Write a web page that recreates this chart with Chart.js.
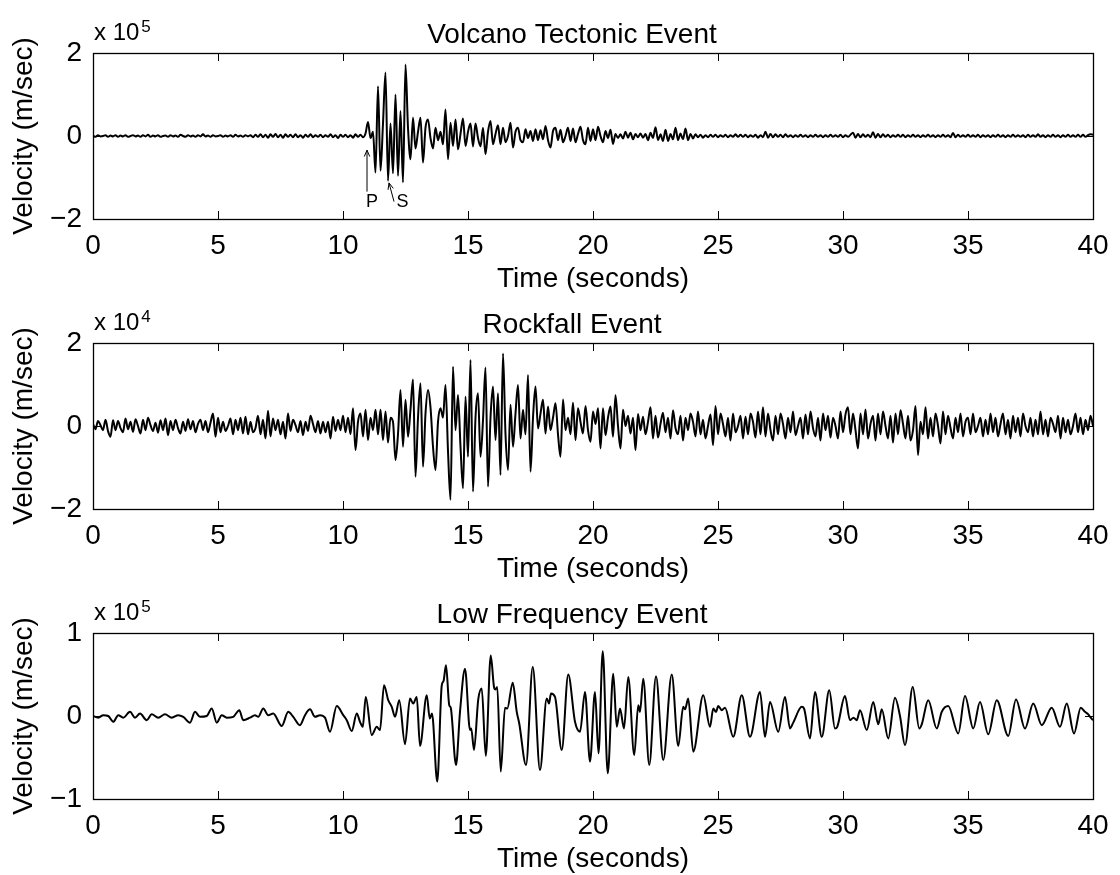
<!DOCTYPE html>
<html lang="en">
<head>
<meta charset="UTF-8">
<title>Seismic Event Waveforms</title>
<script src="https://cdn.jsdelivr.net/npm/chart.js"></script>
<style>
    body { margin: 0; background: #fff; overflow: hidden; }
    .figure { position: relative; width: 1120px; height: 875px; }
    .figure canvas { position: absolute; left: 0; }
</style>
</head>
<body>
<div class="figure">
    <canvas id="vtChart" width="1120" height="300" style="top:1px"></canvas>
    <canvas id="rfChart" width="1120" height="300" style="top:291px"></canvas>
    <canvas id="lfChart" width="1120" height="300" style="top:581px"></canvas>
</div>

<script>
// time axis
const timeTicks = [0, 5, 10, 15, 20, 25, 30, 35, 40];
const dt = 0.1; // sample spacing of the VT and rockfall traces (s)

// Volcano tectonic trace, x 10^5 m/sec, one row per second
const vtTicks = [-2, 0, 2];
const vtVel = [
    0.01, -0.02, 0.02, -0.01, 0.0, 0.02, -0.02, 0.01, -0.01, 0.02,
    -0.02, 0.01, -0.01, 0.02, -0.02, 0.0, 0.02, -0.01, 0.01, -0.02,
    0.02, -0.01, 0.03, -0.02, 0.01, -0.01, 0.02, -0.02, 0.0, 0.01,
    -0.02, 0.02, -0.01, 0.01, -0.02, 0.03, 0.0, -0.02, 0.02, -0.01,
    0.01, -0.02, 0.02, -0.01, 0.04, -0.01, 0.01, -0.02, 0.02, -0.01,
    0.0, 0.02, -0.02, 0.01, -0.01, 0.02, -0.02, 0.03, -0.01, 0.01,
    -0.02, 0.02, -0.01, 0.02, -0.03, 0.03, -0.02, 0.04, -0.03, 0.03,
    -0.04, 0.04, -0.02, 0.05, -0.03, 0.03, -0.04, 0.04, -0.02, 0.03,
    -0.03, 0.04, -0.03, 0.02, -0.04, 0.03, -0.02, 0.04, -0.03, 0.02,
    -0.02, 0.03, -0.03, 0.02, -0.02, 0.04, -0.03, 0.02, -0.05, 0.03,
    -0.02, 0.03, -0.03, 0.02, -0.04, 0.04, -0.02, 0.03, -0.03, 0.06,
    0.34, -0.05, 0.1, -0.88, 1.2, -0.84, 0.3, 1.53, -1.08, 0.3,
    -0.9, 1.0, -0.96, 0.6, -1.12, 1.72, 0.2, -0.56, 0.44, -0.3,
    0.1, 0.44, -0.64, 0.2, 0.4, -0.05, -0.3, 0.2, -0.1, 0.1,
    -0.2, 0.64, -0.56, 0.32, -0.24, 0.4, -0.32, 0.05, 0.42, -0.24,
    0.1, 0.3, -0.25, 0.3, -0.05, -0.25, 0.2, -0.44, 0.1, 0.36,
    -0.2, 0.05, 0.26, -0.2, 0.2, -0.15, 0.0, 0.32, -0.28, 0.1,
    0.2, -0.1, -0.15, 0.16, -0.05, 0.12, -0.12, 0.16, -0.1, 0.14,
    -0.08, 0.24, -0.1, -0.28, 0.12, 0.2, -0.1, 0.15, -0.15, 0.0,
    0.2, -0.12, 0.18, -0.15, 0.05, 0.22, -0.1, -0.2, 0.2, -0.12,
    0.16, -0.1, 0.22, 0.0, -0.15, 0.12, -0.05, 0.15, -0.19, 0.05,
    -0.05, 0.04, -0.06, 0.1, -0.04, 0.08, -0.08, 0.05, -0.03, 0.06,
    -0.04, 0.05, -0.1, 0.08, -0.05, 0.21, -0.1, 0.04, -0.12, 0.15,
    -0.12, 0.05, -0.08, 0.2, -0.1, 0.06, -0.08, 0.18, -0.1, 0.05,
    -0.06, 0.04, -0.03, 0.03, -0.04, 0.02, -0.03, 0.03, -0.02, 0.03,
    -0.03, 0.02, -0.02, 0.03, -0.03, 0.02, -0.02, 0.04, -0.02, 0.03,
    -0.02, 0.03, -0.03, 0.02, -0.02, 0.03, -0.04, 0.02, -0.03, 0.1,
    -0.04, 0.05, -0.03, 0.04, -0.02, 0.03, -0.03, 0.04, -0.02, 0.02,
    -0.03, 0.02, -0.02, 0.03, -0.02, 0.02, -0.03, 0.02, -0.02, 0.03,
    -0.02, 0.02, -0.03, 0.02, -0.02, 0.03, -0.02, 0.02, -0.02, 0.03,
    -0.03, 0.02, -0.02, 0.03, 0.08, -0.04, 0.05, -0.03, 0.04, -0.02,
    0.03, -0.03, 0.09, -0.04, 0.05, -0.03, 0.04, -0.02, 0.03, -0.03,
    0.02, -0.02, 0.03, -0.02, 0.03, -0.03, 0.02, -0.02, 0.03, -0.02,
    0.02, -0.03, 0.02, -0.02, 0.03, -0.02, 0.02, -0.03, 0.02, -0.02,
    0.03, -0.02, 0.02, -0.03, 0.07, -0.03, 0.03, -0.02, 0.02, -0.02,
    0.03, -0.02, 0.02, -0.02, 0.03, -0.03, 0.02, -0.02, 0.02, -0.03,
    0.02, -0.02, 0.03, -0.02, 0.02, -0.03, 0.02, -0.02, 0.03, -0.02,
    0.02, -0.02, 0.02, -0.03, 0.03, -0.02, 0.02, -0.02, 0.04, -0.02,
    0.02, -0.03, 0.02, -0.02, 0.03, -0.02, 0.02, -0.03, 0.02, -0.02,
    0.03, -0.02, 0.02, -0.02, 0.03, -0.02, 0.03, -0.02, 0.02, 0.04,
    0.03
];
// P and S arrivals marked on the VT trace (seconds, x 10^5 m/sec)
const vtPicks = [
    { label: 'P', tip: [10.96, -0.34], tail: [10.96, -1.34], text: [11.16, -1.70] },
    { label: 'S', tip: [11.84, -1.13], tail: [12.04, -1.58], text: [12.38, -1.70] }
];

// Rockfall trace, x 10^4 m/sec
const rfTicks = [-2, 0, 2];
const rfVel = [
    0.05, -0.08, 0.12, 0.02, -0.1, 0.15, -0.12, -0.26, 0.14, -0.1,
    0.12, -0.05, -0.15, 0.18, -0.08, 0.1, -0.14, 0.16, 0.0, -0.18,
    0.15, -0.1, 0.2, 0.02, -0.12, 0.08, -0.16, 0.14, -0.1, 0.18,
    -0.22, 0.12, -0.1, 0.15, -0.05, -0.18, 0.1, -0.12, 0.16, -0.08,
    0.12, -0.15, 0.05, 0.15, -0.1, 0.12, -0.15, 0.08, 0.3, -0.26,
    0.2, -0.15, 0.1, -0.12, 0.0, 0.18, -0.2, 0.15, -0.1, 0.2,
    -0.18, 0.22, -0.2, 0.1, -0.15, -0.05, 0.25, -0.2, 0.15, -0.3,
    0.37, -0.25, 0.18, -0.1, 0.15, -0.2, 0.1, -0.3, 0.3, -0.12,
    0.15, 0.02, -0.15, 0.12, -0.22, 0.1, -0.12, 0.25, 0.05, -0.15,
    0.12, -0.18, 0.1, -0.15, 0.1, -0.3, 0.22, -0.12, 0.15, -0.1,
    0.25, -0.15, 0.2, -0.2, 0.43, -0.58, 0.1, 0.3, -0.25, 0.39,
    -0.34, 0.2, -0.1, 0.39, -0.2, 0.39, -0.34, 0.35, -0.4, 0.2,
    0.1, -0.82, -0.2, 0.87, -0.5, 0.63, -0.26, 0.4, 1.12, -1.22,
    0.2, 1.03, -0.98, 0.3, 0.87, 0.45, -0.5, -1.06, 0.1, 0.43,
    0.2, 0.99, -0.6, -1.78, 1.43, -0.1, 0.75, -0.5, -1.5, 0.71,
    -0.74, 1.59, -1.58, 0.2, 0.79, -0.74, 0.14, 1.41, -1.46, 0.2,
    0.95, -0.34, 0.79, -1.18, 1.75, -0.2, -1.06, 0.51, -0.5, 0.3,
    0.99, -0.3, 0.39, -0.2, 1.23, -1.1, 0.2, 0.95, -0.06, 0.3,
    0.63, -0.18, 0.47, -0.1, 0.2, 0.55, -0.2, -0.74, 0.64, -0.1,
    0.2, -0.2, 0.56, -0.34, 0.43, 0.1, -0.18, 0.48, -0.1, -0.38,
    0.35, 0.05, 0.43, -0.54, 0.43, -0.22, 0.2, 0.47, -0.26, 0.74,
    0.0, -0.54, 0.39, 0.0, 0.25, -0.18, 0.2, -0.58, 0.29, -0.1,
    0.22, -0.2, 0.1, 0.45, -0.3, 0.25, -0.28, 0.05, 0.32, -0.15,
    0.2, -0.3, 0.38, -0.05, -0.2, 0.25, -0.35, 0.2, -0.1, 0.3,
    0.1, -0.25, 0.35, -0.2, 0.15, -0.3, 0.0, 0.28, -0.46, 0.48,
    -0.2, 0.3, 0.05, -0.25, 0.2, -0.35, 0.3, -0.15, 0.0, 0.25,
    -0.3, 0.22, -0.2, 0.3, 0.1, -0.28, 0.35, -0.2, 0.45, -0.25,
    0.3, -0.1, -0.35, 0.25, -0.2, 0.3, 0.05, -0.3, 0.2, -0.15,
    0.35, -0.22, 0.0, 0.2, -0.3, 0.28, -0.2, 0.35, -0.05, -0.25,
    0.2, -0.35, 0.3, -0.1, 0.25, -0.28, 0.2, 0.0, -0.3, 0.35,
    -0.15, 0.28, 0.45, -0.2, 0.3, -0.1, -0.54, 0.3, -0.2, 0.4,
    -0.3, 0.05, 0.25, -0.35, 0.3, -0.2, 0.35, 0.0, -0.3, 0.25,
    -0.4, 0.3, -0.2, 0.38, 0.05, -0.3, 0.25, -0.35, -0.1, 0.48,
    -0.7, 0.1, -0.2, 0.45, -0.3, 0.2, -0.25, 0.3, 0.0, -0.42,
    0.35, -0.2, 0.25, -0.05, -0.3, 0.2, -0.15, 0.3, -0.25, 0.1,
    0.2, -0.2, 0.3, -0.15, 0.0, 0.2, -0.25, 0.15, -0.2, 0.3,
    -0.15, 0.2, -0.25, 0.05, 0.3, -0.2, 0.15, -0.3, 0.25, -0.15,
    0.2, -0.25, 0.3, 0.0, -0.15, 0.2, -0.25, 0.15, -0.2, 0.35,
    -0.2, 0.15, -0.25, 0.2, 0.05, -0.15, 0.25, -0.3, 0.2, -0.15,
    0.15, -0.2, 0.0, 0.3, -0.15, 0.2, -0.2, 0.15, -0.1, 0.25,
    0.0
];

// Low frequency trace, x 10^5 m/sec, peaks and troughs
const lfTicks = [-1, 0, 1];
const lfTime = [
    0.0, 0.21, 0.41, 0.61, 0.81, 1.01, 1.21, 1.48, 1.68, 1.88,
    2.15, 2.35, 2.61, 2.88, 3.15, 3.41, 3.61, 3.88, 4.08, 4.28,
    4.55, 4.75, 4.95, 5.15, 5.35, 5.61, 5.85, 6.01, 6.28, 6.48,
    6.61, 6.81, 7.01, 7.21, 7.55, 7.81, 8.01, 8.28, 8.48, 8.68,
    8.88, 9.08, 9.28, 9.48, 9.75, 10.01, 10.15, 10.35, 10.55, 10.68,
    10.79, 10.91, 11.15, 11.35, 11.48, 11.64, 11.81, 11.95, 12.08, 12.25,
    12.48, 12.68, 12.81, 12.95, 13.08, 13.35, 13.47, 13.56, 13.77, 13.95,
    14.02, 14.12, 14.25, 14.31, 14.52, 14.68, 14.88, 15.08, 15.13, 15.24,
    15.41, 15.55, 15.71, 15.91, 16.04, 16.1, 16.17, 16.31, 16.48, 16.57,
    16.79, 16.95, 17.05, 17.32, 17.59, 17.88, 18.15, 18.24, 18.32, 18.48,
    18.75, 19.01, 19.28, 19.48, 19.68, 19.88, 20.08, 20.22, 20.39, 20.59,
    20.81, 20.95, 21.08, 21.24, 21.41, 21.65, 21.81, 21.88, 22.01, 22.25,
    22.52, 22.81, 23.15, 23.41, 23.61, 23.68, 23.81, 24.01, 24.41, 24.68,
    24.81, 24.92, 25.01, 25.15, 25.28, 25.61, 25.95, 26.28, 26.68, 26.88,
    27.08, 27.41, 27.68, 27.88, 28.01, 28.35, 28.44, 28.68, 28.88, 29.15,
    29.45, 29.68, 29.77, 30.08, 30.28, 30.42, 30.55, 30.68, 30.95, 31.21,
    31.41, 31.55, 31.81, 32.08, 32.28, 32.48, 32.79, 33.05, 33.15, 33.41,
    33.75, 33.95, 34.21, 34.61, 34.88, 35.21, 35.48, 35.81, 36.15, 36.61,
    36.92, 37.28, 37.61, 37.95, 38.35, 38.68, 38.95, 39.24, 39.51, 39.68,
    39.81, 39.91, 40.0
];
const lfVel = [
    0, -0.02, 0.01, 0.0, -0.07, 0.01, -0.02, 0.05, -0.02, 0.03,
    -0.05, 0.02, -0.02, 0.02, -0.02, 0.01, -0.01, -0.08, 0.05, -0.01,
    0.0, 0.09, -0.08, 0.01, -0.02, -0.01, 0.07, -0.05, -0.02, 0.01,
    -0.01, 0.09, 0.01, 0.03, -0.12, 0.05, -0.01, -0.11, 0.01, 0.08,
    -0.01, 0.01, -0.02, -0.19, 0.12, 0.01, -0.05, -0.18, 0.03, -0.07,
    -0.13, 0.23, -0.23, -0.13, -0.17, 0.37, 0.19, 0.11, -0.01, 0.19,
    -0.34, 0.21, 0.15, 0.23, -0.36, 0.25, -0.03, 0.03, -0.79, 0.37,
    0.42, 0.61, 0.13, 0.1, -0.59, 0.05, 0.57, -0.17, -0.15, -0.41,
    0.2, 0.33, -0.48, 0.73, 0.35, 0.32, 0.35, -0.67, 0.1, 0.09,
    0.4, 0.05, -0.09, -0.59, 0.59, -0.65, 0.21, 0.15, 0.27, 0.23,
    -0.41, 0.5, -0.07, -0.19, 0.29, -0.55, 0.29, -0.45, 0.78, -0.69,
    0.51, -0.13, 0.09, -0.15, 0.47, -0.47, 0.13, 0.05, 0.45, -0.59,
    0.48, -0.53, 0.5, -0.36, 0.11, 0.08, 0.21, -0.43, 0.25, -0.13,
    0.09, 0.05, 0.12, 0.07, 0.1, -0.25, 0.25, -0.25, 0.29, -0.25,
    0.17, -0.19, 0.23, -0.15, -0.08, 0.11, 0.09, -0.27, 0.29, -0.25,
    0.31, -0.15, -0.13, 0.24, -0.05, -0.02, -0.05, 0.07, -0.17, 0.17,
    -0.1, 0.08, -0.27, 0.22, 0.0, -0.35, 0.35, -0.15, -0.1, 0.19,
    -0.15, 0.05, 0.12, -0.21, 0.24, -0.15, 0.17, -0.22, 0.19, -0.24,
    0.2, -0.15, 0.15, -0.11, 0.1, -0.13, 0.15, -0.21, 0.1, 0.05,
    0.02, -0.02, -0.05
];

const FONT = '"Liberation Sans", Arial, Helvetica, sans-serif';
Chart.defaults.font.family = FONT;
Chart.defaults.color = '#000';

const sampled = vals => vals.map((v, i) => ({ x: +(i * dt).toFixed(1), y: v }));
const paired = (ts, vs) => ts.map((t, i) => ({ x: t, y: vs[i] }));
const minus = v => (v < 0 ? '\u2212' + Math.abs(v) : String(v));

// box round the plot with MATLAB style inward ticks
const frame = {
    id: 'frame',
    afterDatasetsDraw(chart) {
        const { ctx, chartArea: a, scales: { x, y } } = chart;
        const len = 8;
        ctx.save();
        ctx.strokeStyle = '#000';
        ctx.lineWidth = 1.3;
        ctx.strokeRect(a.left + 0.5, a.top + 0.5, a.width, a.height);
        ctx.lineWidth = 1;
        ctx.beginPath();
        x.ticks.forEach(t => {
            const px = Math.round(x.getPixelForValue(t.value)) + 0.5;
            ctx.moveTo(px, a.top); ctx.lineTo(px, a.top + len);
            ctx.moveTo(px, a.bottom); ctx.lineTo(px, a.bottom - len);
        });
        y.ticks.forEach(t => {
            const py = Math.round(y.getPixelForValue(t.value)) + 0.5;
            ctx.moveTo(a.left, py); ctx.lineTo(a.left + len, py);
            ctx.moveTo(a.right, py); ctx.lineTo(a.right - len, py);
        });
        ctx.stroke();
        ctx.restore();
    }
};

// panel title, exponent label and phase picks
const panelText = {
    id: 'panelText',
    afterDraw(chart, args, opts) {
        const { ctx, chartArea: a, scales: { x, y } } = chart;
        ctx.save();
        ctx.fillStyle = '#000';
        ctx.strokeStyle = '#000';
        ctx.textBaseline = 'alphabetic';

        ctx.font = '28px ' + FONT;
        ctx.textAlign = 'center';
        ctx.fillText(opts.title, (a.left + a.right) / 2 - 21, a.top - 10);

        ctx.textAlign = 'left';
        ctx.font = '24px ' + FONT;
        ctx.fillText('x 10', a.left + 1, a.top - 13);
        const w = ctx.measureText('x 10').width;
        ctx.font = '17px ' + FONT;
        ctx.fillText(String(opts.exponent), a.left + 3 + w, a.top - 21);

        (opts.picks || []).forEach(p => {
            const tx = x.getPixelForValue(p.tip[0]), ty = y.getPixelForValue(p.tip[1]);
            const sx = x.getPixelForValue(p.tail[0]), sy = y.getPixelForValue(p.tail[1]);
            const ang = Math.atan2(ty - sy, tx - sx);
            const h = 7;
            ctx.lineWidth = 1;
            ctx.beginPath();
            ctx.moveTo(sx, sy);
            ctx.lineTo(tx, ty);
            ctx.moveTo(tx - h * Math.cos(ang - 0.4), ty - h * Math.sin(ang - 0.4));
            ctx.lineTo(tx, ty);
            ctx.lineTo(tx - h * Math.cos(ang + 0.4), ty - h * Math.sin(ang + 0.4));
            ctx.stroke();
            ctx.font = '18px ' + FONT;
            ctx.textAlign = 'center';
            ctx.fillText(p.label, x.getPixelForValue(p.text[0]), y.getPixelForValue(p.text[1]));
        });
        ctx.restore();
    }
};

function seismogram(id, points, yTicks, text) {
    new Chart(document.getElementById(id), {
        type: 'line',
        data: {
            datasets: [{
                data: points,
                borderColor: '#000',
                borderWidth: 2,
                pointRadius: 0,
                cubicInterpolationMode: 'monotone'
            }]
        },
        options: {
            responsive: false,
            animation: false,
            events: [],
            layout: { padding: { top: 52, right: 27, left: 0, bottom: 0 } },
            plugins: {
                legend: { display: false },
                tooltip: { enabled: false },
                panelText: text
            },
            scales: {
                x: {
                    type: 'linear',
                    min: 0,
                    max: 40,
                    afterBuildTicks: s => { s.ticks = timeTicks.map(v => ({ value: v })); },
                    afterFit: s => { s.height = 82; },
                    grid: { display: false, drawTicks: false },
                    border: { display: false },
                    ticks: { font: { size: 28 }, padding: 10, maxRotation: 0, autoSkip: false },
                    title: { display: true, text: 'Time (seconds)', font: { size: 28 }, padding: { top: 0, bottom: 5 } }
                },
                y: {
                    type: 'linear',
                    min: yTicks[0],
                    max: yTicks[yTicks.length - 1],
                    afterBuildTicks: s => { s.ticks = yTicks.map(v => ({ value: v })); },
                    afterFit: s => { s.width = 93; },
                    grid: { display: false, drawTicks: false },
                    border: { display: false },
                    ticks: { font: { size: 28 }, padding: 11, callback: minus },
                    title: { display: true, text: 'Velocity (m/sec)', font: { size: 28 }, padding: { top: 7, bottom: 0 } }
                }
            }
        },
        plugins: [frame, panelText]
    });
}

seismogram('vtChart', sampled(vtVel), vtTicks,
    { title: 'Volcano Tectonic Event', exponent: 5, picks: vtPicks });
seismogram('rfChart', sampled(rfVel), rfTicks,
    { title: 'Rockfall Event', exponent: 4 });
seismogram('lfChart', paired(lfTime, lfVel), lfTicks,
    { title: 'Low Frequency Event', exponent: 5 });
</script>
</body>
</html>
